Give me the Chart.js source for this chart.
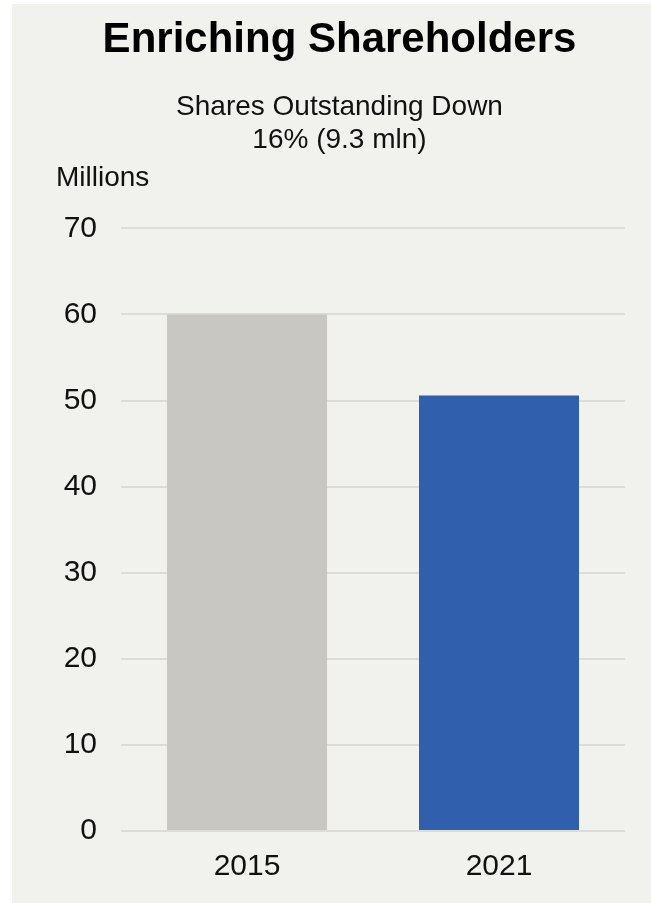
<!DOCTYPE html>
<html>
    <head>
        <title>Enriching Shareholders</title>
        <script src="https://cdn.jsdelivr.net/npm/chart.js@4.4.1/dist/chart.umd.min.js"></script>
        <style>
            body { margin: 0; background: #fff; }
            #panel { position: absolute; left: 12px; top: 4px; width: 639px; height: 899px; background: #f1f1ed; }
            #chart { position: absolute; left: 0; top: 0; }
        </style>
    </head>
    <body>
        <div id="panel"></div>
        <canvas id="chart" width="651" height="903"></canvas>
        <script>
        // values
        const years = ['2015', '2021'];
        const shares = [60.0, 50.6];
        const barColors = ['#c8c7c2', '#3060ad'];

        const FONT = '"Liberation Sans", Arial, Helvetica, sans-serif';

        // "Millions" unit label above the y axis
        const unitLabel = {
            id: 'unitLabel',
            afterDraw(chart) {
                const y = chart.scales.y;
                const ctx = chart.ctx;
                ctx.save();
                ctx.font = '28px ' + FONT;
                ctx.fillStyle = '#111';
                ctx.textAlign = 'left';
                ctx.textBaseline = 'middle';
                ctx.fillText('Millions', y.left + 2, y.getPixelForValue(70) - 50);
                ctx.restore();
            }
        };

        new Chart(document.getElementById('chart'), {
            type: 'bar',
            data: {
                labels: years,
                datasets: [{
                    data: shares,
                    backgroundColor: barColors,
                    borderWidth: 0,
                    barPercentage: 0.635,
                    categoryPercentage: 1
                }]
            },
            options: {
                responsive: false,
                animation: false,
                layout: { padding: { left: 54, right: 26, top: 0, bottom: 8 } },
                plugins: {
                    legend: { display: false },
                    tooltip: { enabled: false },
                    title: {
                        display: true,
                        text: 'Enriching Shareholders',
                        color: '#000',
                        font: { family: FONT, size: 42, weight: 'bold', lineHeight: 1.15 },
                        padding: { top: 16, bottom: 26 }
                    },
                    subtitle: {
                        display: true,
                        text: ['Shares Outstanding Down', '16% (9.3 mln)'],
                        color: '#111',
                        font: { family: FONT, size: 28, lineHeight: 1.18 },
                        padding: { top: 0, bottom: 72 }
                    }
                },
                scales: {
                    x: {
                        grid: { display: false },
                        border: { display: false },
                        ticks: { color: '#111', font: { family: FONT, size: 30 }, padding: 10 }
                    },
                    y: {
                        min: 0,
                        max: 70,
                        afterFit(scale) { scale.width = 67; },
                        grid: { color: '#dcdcd8', lineWidth: 2, drawTicks: false },
                        border: { display: false },
                        ticks: { stepSize: 10, color: '#111', font: { family: FONT, size: 30 }, padding: 24 }
                    }
                }
            },
            plugins: [unitLabel]
        });
        </script>
    </body>
</html>
